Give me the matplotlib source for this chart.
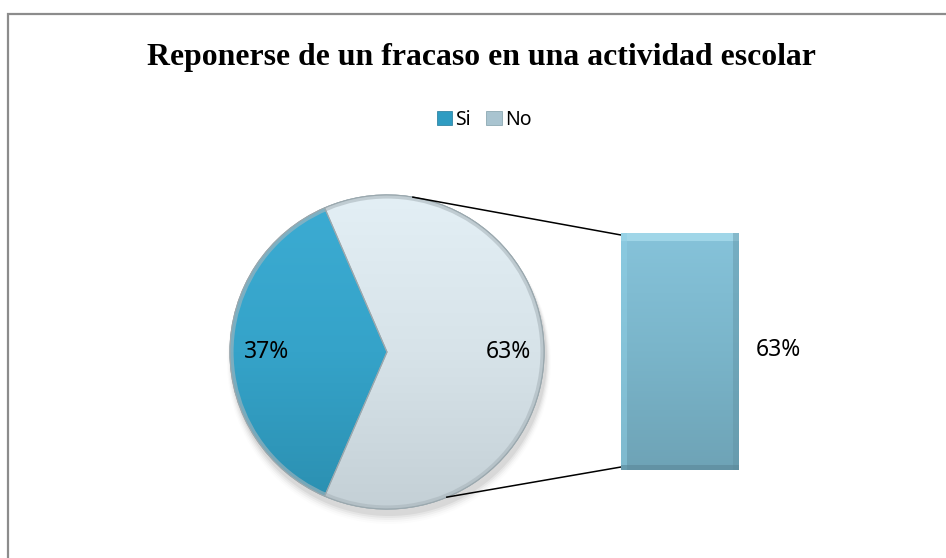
import numpy as np
import matplotlib
matplotlib.use("Agg")
import matplotlib.pyplot as plt
from matplotlib.patches import Rectangle, Patch, Circle
from matplotlib.colors import LinearSegmentedColormap

# ---- data ----
title = "Reponerse de un fracaso en una actividad escolar"
categories = ["Si", "No"]
values = [37, 63]
pct_labels = ["37%", "63%"]
bar_values = [63]
bar_labels = ["63%"]

W, H = 946, 558
fig = plt.figure(figsize=(W / 100, H / 100), dpi=100)
fig.patch.set_facecolor("white")
ax = fig.add_axes([0, 0, 1, 1])

def Y(y):  # image pixel row -> data y
    return H - y

# chart frame
ax.add_patch(Rectangle((8, Y(600)), 1000, 600 - 13.5, fill=False,
                       edgecolor="#8c8c8c", lw=1.6, zorder=0))

cx, cy, r = 387, Y(352), 157
start = 180 - values[0] / sum(values) * 360 / 2

# soft shadow
for i, a in enumerate(np.linspace(0.05, 0.01, 5)):
    ax.add_patch(Circle((cx + 2, cy - 6 - i), r + 1 + i, color="#000000",
                        alpha=a, lw=0, zorder=1))

wedges, texts, autotexts = ax.pie(
    values, startangle=start, counterclock=True, radius=r, center=(cx, cy),
    colors=["#2f9cc2", "#d9e6ec"], autopct=lambda p: "", pctdistance=0.77,
    wedgeprops=dict(edgecolor="#8a9aa2", linewidth=0.8), frame=True)

grads = [
    LinearSegmentedColormap.from_list("si", ["#2b8fb0", "#35a3c9", "#3cacd3"]),
    LinearSegmentedColormap.from_list("no", ["#c4d0d6", "#d7e3e9", "#e3eff5"]),
]
gy = np.linspace(0, 1, 256).reshape(-1, 1)
for w, cmap in zip(wedges, grads):
    w.set_zorder(2)
    im = ax.imshow(gy, cmap=cmap, aspect="auto", origin="lower",
                   extent=(cx - r, cx + r, cy - r, cy + r), zorder=2.5,
                   interpolation="bilinear")
    im.set_clip_path(w)
# rim
ax.add_patch(Circle((cx, cy), r - 1.5, fill=False, edgecolor="#aab6bc",
                    lw=3, alpha=0.6, zorder=3))
for w in wedges:
    w2 = matplotlib.patches.Wedge((cx, cy), r, w.theta1, w.theta2,
                                  fill=False, edgecolor="#9aa8ae", lw=0.8,
                                  zorder=3.2)
    ax.add_patch(w2)

for at, lab, w in zip(autotexts, pct_labels, wedges):
    at.set_text(lab)
    at.set_fontsize(16.5)
    at.set_fontfamily("Noto Sans")
    at.set_color("black")
    at.set_zorder(5)

# bar of pie
bl, bb, bw, bh = 621, Y(470), 118, 237
ax2 = fig.add_axes([bl / W, bb / H, bw / W, bh / H])
ax2.set_axis_off()
bars = ax2.bar([0], bar_values, width=1.0, color="#7ab6cc", zorder=2)
ax2.set_xlim(-0.5, 0.5)
ax2.set_ylim(0, sum(bar_values))
bcmap = LinearSegmentedColormap.from_list("bar", ["#6ea3b6", "#7ab5ca", "#86c3da"])
im = ax2.imshow(gy, cmap=bcmap, aspect="auto", origin="lower",
                extent=(-0.5, 0.5, 0, sum(bar_values)), zorder=2.5,
                interpolation="bilinear")
im.set_clip_path(bars[0])
# bevel highlights
ax2.add_patch(Rectangle((-0.5, sum(bar_values) * 0.965), 1.0, sum(bar_values) * 0.035,
                        color="#a8dcec", alpha=0.8, lw=0, zorder=3))
ax2.add_patch(Rectangle((-0.5, 0), 0.05, sum(bar_values), color="#8fd0e6",
                        alpha=0.5, lw=0, zorder=3))
ax2.add_patch(Rectangle((0.45, 0), 0.05, sum(bar_values), color="#5e8fa0",
                        alpha=0.4, lw=0, zorder=3))
ax2.add_patch(Rectangle((-0.5, 0), 1.0, sum(bar_values) * 0.02,
                        color="#5a8798", alpha=0.6, lw=0, zorder=3))
ax2.text(0.5 + 39 / bw, bar_values[0] / 2 + 0.5, bar_labels[0], ha="center", va="center",
         fontsize=16.5, fontfamily="Noto Sans", color="black")

# connector lines
def on_circle(deg):
    t = np.deg2rad(deg)
    return cx + r * np.cos(t), cy + r * np.sin(t)
p1 = on_circle(80.5)
p2 = on_circle(-67.6)
ax.plot([p1[0], bl], [p1[1], bb + bh - 2], color="black", lw=1.1, zorder=4)
ax.plot([p2[0], bl], [p2[1], bb + 3], color="black", lw=1.1, zorder=4)

ax.set_xlim(0, W)
ax.set_ylim(0, H)
ax.set_axis_off()

# title
ax.text(481.5, Y(65), title, ha="center", va="baseline", fontsize=22.85,
        fontweight="bold", fontfamily="Liberation Serif", color="black")

# legend
handles = [Patch(facecolor="#2f9cc2", edgecolor="#1f7898", lw=0.5),
           Patch(facecolor="#a9c4d0", edgecolor="#7f9ea9", lw=0.5)]
ax.legend(handles, categories, loc="center", bbox_to_anchor=(484 / W, 1 - 120 / H),
          ncol=2, frameon=False, handlelength=0.8, handleheight=0.7,
          handletextpad=0.15, columnspacing=0.8,
          prop=dict(family="Noto Sans", size=14))

fig.savefig("out.png", dpi=100, facecolor="white")
